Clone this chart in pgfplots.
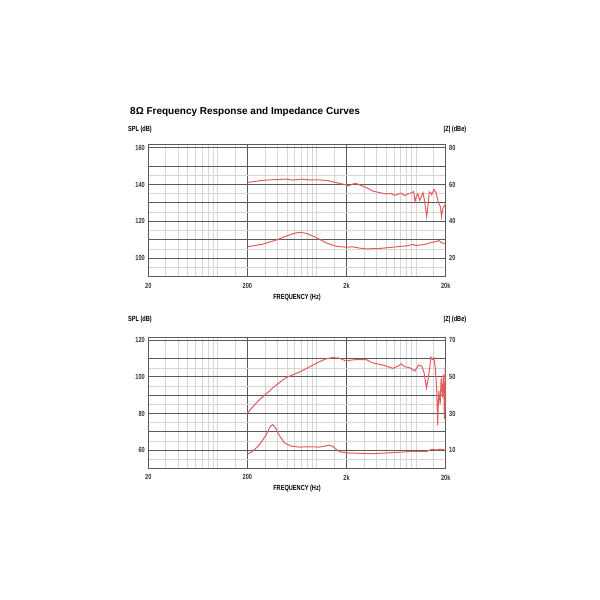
\documentclass[border=0pt]{standalone}
\usepackage{fontspec}
\setmainfont{Liberation Sans}
\newfontfamily\cond{Liberation Sans}[FakeStretch=0.76]
\usepackage{pgfplots}
\pgfplotsset{compat=1.18}

\definecolor{respred}{RGB}{228,92,92}
\definecolor{darkgrid}{RGB}{90,90,90}
\definecolor{lightgrid}{RGB}{214,214,214}

\newcommand{\lbl}{\cond\bfseries\fontsize{7.4}{7.4}\selectfont}

\begin{document}
\begin{tikzpicture}
\useasboundingbox[fill=white] (0,0) rectangle (600pt,600pt);

\node[anchor=base west, inner sep=0pt, font=\bfseries\fontsize{10}{10}\selectfont] at (130pt,485.5pt)
  {8Ω Frequency Response and Impedance Curves};

% upper chart
\begin{axis}[at={(148.3pt,323.3pt)}, anchor=south west,
    scale only axis, width=297.4pt, height=132.4pt,
    xmode=log, xmin=20, xmax=20000,
    xtick={20,200,2000,20000}, xticklabels={20,200,2k,20k},
    minor xtick={30,40,50,60,70,80,90,100,150,300,400,500,600,700,800,900,1000,1500,3000,4000,5000,6000,7000,8000,9000,10000,15000},
    ymin=90, ymax=161.8,
    ytick={90,100,110,120,130,140,150,160},
    yticklabels={,100,,120,,140,,160},
    minor ytick={95,105,115,125,135,145},
    major tick length=0pt, minor tick length=0pt,
    grid=both,
    major grid style={darkgrid, line width=1pt},
    minor grid style={lightgrid, line width=0.6pt},
    axis line style={darkgrid, line width=1pt},
    tick label style={font=\lbl, text=black!80},
    xticklabel style={yshift=-3pt}]
\addplot[respred, line width=1pt, mark=none] coordinates {
 (200,141.1) (262,142) (330,142.5) (420,142.7) (490,142.9) (570,142.4)
 (694,142.9) (844,142.5) (1060,142.5) (1290,142.1) (1570,141) (1800,140.3)
 (2000,139.8) (2070,139.2) (2200,139.7) (2300,140.2) (2480,140.6) (2700,139.8)
 (3150,138.4) (3690,136.4) (4300,135.6) (5030,134.9) (5650,135.1) (6100,134.1)
 (6600,134.7) (7140,135.3) (7700,133.9) (8300,134.9) (9000,135.4) (9500,136.1)
 (9800,130.8) (10150,133.6) (10500,135) (10900,131.5) (11300,133.3) (11800,135.6)
 (12300,130.5) (12860,122.5) (13300,129) (13650,136) (14100,135.5) (14460,134.5)
 (15200,137.3) (15600,136.5) (15980,135.5) (16400,133) (16890,130) (17640,128.2)
 (18140,122.5) (18600,126.5) (19070,127.8) (19500,128.5) (20000,129.8)
};
\end{axis}
\begin{axis}[at={(148.3pt,323.3pt)}, anchor=south west,
    scale only axis, width=297.4pt, height=132.4pt,
    xmode=log, xmin=20, xmax=20000,
    axis x line=none, axis y line*=right,
    y axis line style={draw=none},
    major tick length=0pt,
    tick label style={font=\lbl, text=black!80},
    ymin=10, ymax=81.8,
    ytick={20,40,60,80}, yticklabels={20,40,60,80}]
\addplot[respred, line width=1pt, mark=none] coordinates {
 (200,26.2) (283,27.6) (387,29.8) (490,32) (620,33.8) (694,34) (780,33.5)
 (985,31.3) (1240,28.4) (1570,26.5) (2000,26) (2300,26.2) (2700,25.5)
 (3150,25.1) (4300,25.3) (5860,26) (8000,26.7) (9350,27.5) (10100,26.9)
 (12300,27.5) (13900,28.4) (16200,29.1) (17100,29.6) (18100,28.4)
 (19000,28.2) (20000,27.8)
};
\end{axis}
\node[font=\lbl] at (140pt,470pt) {SPL (dB)};
\node[font=\lbl] at (455pt,470pt) {|Z| (dBe)};
\node[font=\lbl] at (297pt,302.7pt) {FREQUENCY (Hz)};

% lower chart
\begin{axis}[at={(148.3pt,131.7pt)}, anchor=south west,
    scale only axis, width=297.4pt, height=130.6pt,
    xmode=log, xmin=20, xmax=20000,
    xtick={20,200,2000,20000}, xticklabels={20,200,2k,20k},
    minor xtick={30,40,50,60,70,80,90,100,150,300,400,500,600,700,800,900,1000,1500,3000,4000,5000,6000,7000,8000,9000,10000,15000},
    ymin=50, ymax=121.5,
    ytick={50,60,70,80,90,100,110,120},
    yticklabels={,60,,80,,100,,120},
    minor ytick={55,65,75,85,95,105},
    major tick length=0pt, minor tick length=0pt,
    grid=both,
    major grid style={darkgrid, line width=1pt},
    minor grid style={lightgrid, line width=0.6pt},
    axis line style={darkgrid, line width=1pt},
    tick label style={font=\lbl, text=black!80},
    xticklabel style={yshift=-3pt}]
\addplot[respred, line width=1pt, mark=none] coordinates {
 (200,80.2) (224,83.4) (262,87.4) (307,90.6) (358,93.9) (419,96.9) (490,99.6)
 (571,101.1) (668,102.7) (780,104.5) (914,106.5) (1060,108.3) (1240,109.9)
 (1450,110.6) (1690,110.3) (2000,108.6) (2170,109.2) (2500,109.5) (3150,109.5)
 (3690,107.7) (4670,106.5) (5860,104.7) (6600,105.9) (7140,107.2) (7700,105.6)
 (8700,105) (9800,103.2) (10600,106.5) (11500,105.9) (12100,102.3) (12800,93.9)
 (13200,97.8) (13650,103.2) (14200,110.8) (14800,109.5) (15200,110.5)
 (15700,105) (16200,94.2) (16600,73.5) (17000,92.4) (17600,85.2) (18000,99.6)
 (18500,88.8) (19000,101.4) (19400,77.1) (19800,105.9) (20000,81.6)
};
\end{axis}
\begin{axis}[at={(148.3pt,131.7pt)}, anchor=south west,
    scale only axis, width=297.4pt, height=130.6pt,
    xmode=log, xmin=20, xmax=20000,
    axis x line=none, axis y line*=right,
    y axis line style={draw=none},
    major tick length=0pt,
    tick label style={font=\lbl, text=black!80},
    ymin=0, ymax=71.5,
    ytick={10,30,50,70}, yticklabels={10,30,50,70}]
\addplot[respred, line width=1pt, mark=none] coordinates {
 (200,7.8) (224,9.1) (262,12.7) (307,18.1) (337,22.6) (358,23.9) (381,22.6)
 (419,18.1) (470,14) (550,12.2) (668,11.6) (844,11.8) (1060,11.6) (1240,12.3)
 (1320,12.7) (1450,12) (1690,9.1) (2000,8.4) (2700,8.2) (3690,8) (5030,8.4)
 (7400,8.9) (9350,9.3) (12860,9.3) (14460,10.4) (16200,10) (17600,10.5)
 (20000,10)
};
\end{axis}
\node[font=\lbl] at (140pt,280pt) {SPL (dB)};
\node[font=\lbl] at (455pt,280pt) {|Z| (dBe)};
\node[font=\lbl] at (297pt,111pt) {FREQUENCY (Hz)};
\end{tikzpicture}
\end{document}
